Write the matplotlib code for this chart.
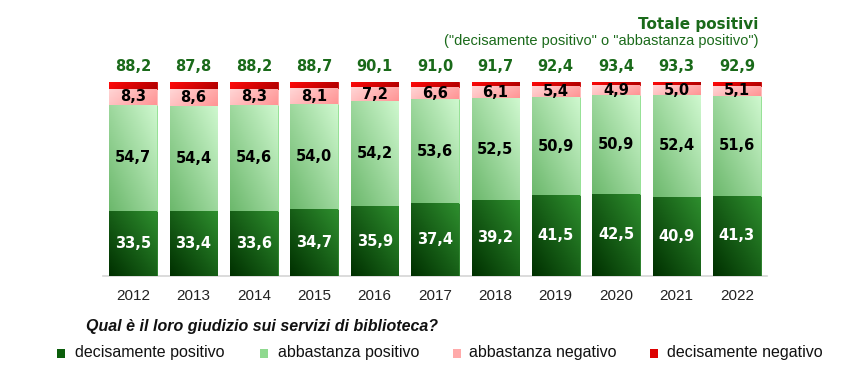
import numpy as np
import matplotlib
matplotlib.use("Agg")
import matplotlib.pyplot as plt
from matplotlib.colors import LinearSegmentedColormap

years = ["2012", "2013", "2014", "2015", "2016", "2017", "2018", "2019", "2020", "2021", "2022"]
decisamente_positivo = [33.5, 33.4, 33.6, 34.7, 35.9, 37.4, 39.2, 41.5, 42.5, 40.9, 41.3]
abbastanza_positivo = [54.7, 54.4, 54.6, 54.0, 54.2, 53.6, 52.5, 50.9, 50.9, 52.4, 51.6]
abbastanza_negativo = [8.3, 8.6, 8.3, 8.1, 7.2, 6.6, 6.1, 5.4, 4.9, 5.0, 5.1]
totale_positivi = [88.2, 87.8, 88.2, 88.7, 90.1, 91.0, 91.7, 92.4, 93.4, 93.3, 92.9]
decisamente_negativo = [round(100 - a - b - c, 1) for a, b, c in
                        zip(decisamente_positivo, abbastanza_positivo, abbastanza_negativo)]

series_names = ["decisamente positivo", "abbastanza positivo",
                "abbastanza negativo", "decisamente negativo"]
series = [decisamente_positivo, abbastanza_positivo, abbastanza_negativo, decisamente_negativo]

legend_colors = ["#0b5e0b", "#8fd98f", "#ffaaaa", "#dd0000"]
grad_colors = [("#003000", "#2e8e2e"),
               ("#6cb86c", "#cff8cf"),
               ("#ffd6d6", "#ff9494"),
               ("#ff0a0a", "#b00000")]
edge_colors = ["#1f7a1f", "#8fe08f", "#ffb8b8", "#cc0000"]

fig = plt.figure(figsize=(8.67, 3.7), dpi=100)
ax = fig.add_axes([103 / 867, 94 / 370, 664 / 867, 194 / 370])
ax.set_xlim(-0.5, 10.5)
ax.set_ylim(0, 100)

x = np.arange(len(years))
width = 0.79
bottom = np.zeros(len(years))

N = 64
uu, vv = np.meshgrid(np.linspace(0, 1, N), np.linspace(0, 1, N))

for k, vals in enumerate(series):
    vals = np.array(vals)
    bars = ax.bar(x, vals, width, bottom=bottom, color=legend_colors[k],
                  edgecolor=edge_colors[k], linewidth=0.6, zorder=2)
    c0, c1 = grad_colors[k]
    cmap = LinearSegmentedColormap.from_list("g%d" % k, [c0, c1])
    if k == 2:
        g = 1 - (0.7 * (1 - uu) + 0.3 * vv)
    elif k == 3:
        g = 0.85 * uu + 0.15 * (1 - vv)
    else:
        g = 0.5 * uu + 0.5 * vv
    for b in bars:
        bx, by = b.get_x(), b.get_y()
        bw, bh = b.get_width(), b.get_height()
        im = ax.imshow(g, extent=[bx, bx + bw, by, by + bh], origin="lower",
                       cmap=cmap, aspect="auto", zorder=2.5, interpolation="bilinear")
        im.set_clip_path(b)
    centers = bottom + vals / 2
    if k < 3:
        for xi, (c, v) in enumerate(zip(centers, vals)):
            ax.text(xi, c, ("%.1f" % v).replace(".", ","), ha="center", va="center",
                    fontsize=10.5, fontweight="bold", family="DejaVu Sans",
                    color="white" if k == 0 else "black", zorder=5)
    bottom = bottom + vals

for xi, t in enumerate(totale_positivi):
    ax.text(xi, 107.8, ("%.1f" % t).replace(".", ","), ha="center", va="center",
            fontsize=10.5, fontweight="bold", family="DejaVu Sans", color="#1a6a1a",
            clip_on=False)

ax.set_xticks(x)
ax.set_xticklabels(years, fontsize=11, family="Liberation Sans", color="#222222")
ax.tick_params(axis="x", length=0, pad=9)
ax.set_yticks([])
for s in ["top", "left", "right"]:
    ax.spines[s].set_visible(False)
ax.spines["bottom"].set_color("#d6d6d6")
ax.spines["bottom"].set_linewidth(1.2)
ax.spines["bottom"].set_zorder(1)

fig.text(758 / 867, 1 - 24 / 370, "Totale positivi", ha="right", va="center",
         fontsize=11, fontweight="bold", family="DejaVu Sans", color="#1a6a1a")
fig.text(758 / 867, 1 - 41 / 370, '("decisamente positivo" o "abbastanza positivo")',
         ha="right", va="center", fontsize=10.5, family="Liberation Sans", color="#1a6a1a")

fig.text(86 / 867, 1 - 326 / 370, "Qual è il loro giudizio sui servizi di biblioteca?",
         ha="left", va="center", fontsize=11.5, fontweight="bold", style="italic",
         family="Liberation Sans", color="#111111")

leg_sq_x = [57, 260, 453, 650]
leg_tx_x = [75, 278, 469, 667]
leg_y = 1 - 353 / 370
for k in range(4):
    fig.patches.append(plt.Rectangle((leg_sq_x[k] / 867, leg_y - 4.5 / 370), 8 / 867, 9 / 370,
                                     transform=fig.transFigure, facecolor=legend_colors[k],
                                     edgecolor="none"))
    fig.text(leg_tx_x[k] / 867, leg_y, series_names[k], ha="left", va="center",
             fontsize=11.5, family="Liberation Sans", color="#111111")

fig.savefig("out.png", dpi=100)
